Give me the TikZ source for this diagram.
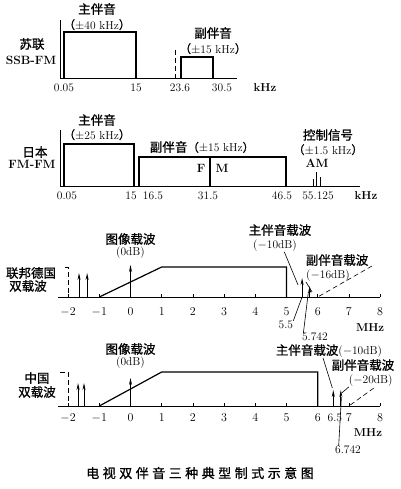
\documentclass[tikz,border=0pt]{standalone}
\usepackage{fontspec}
\newfontfamily\cjk{Noto Sans CJK SC}[FakeBold=1]
\usetikzlibrary{arrows.meta,positioning}
\newcommand\zlp{{\cjk（}}
\newcommand\zrp{{\cjk）}}

\begin{document}
\begin{tikzpicture}[x=1pt, y=-1pt,
    cn/.style={font=\cjk\fontsize{12.5}{14}\selectfont, inner sep=0pt},
    num/.style={font=\fontsize{11.5}{13}\selectfont, inner sep=0pt},
    tag/.style={font=\bfseries\fontsize{12}{14}\selectfont, inner sep=0pt},
    unit/.style={font=\bfseries\fontsize{11.5}{13}\selectfont, inner sep=0pt},
    band/.style={line width=1.2pt},
    axis/.style={line width=0.7pt},
    carrier/.style={-{Stealth[length=7pt, width=3pt]}, line width=0.9pt},
    lead/.style={line width=0.6pt},
    dlead/.style={line width=0.6pt, dash pattern=on 5pt off 3pt}
]
\useasboundingbox (0,0) rectangle (400,489);

% Soviet SSB-FM
\draw[axis] (60,20) -- (60,78) -- (237,78);
\draw[band] (64,78) |- (136,32) -- (136,78);
\draw[axis, dash pattern=on 5pt off 3pt] (175,50) -- (175,78);
\draw[band] (181,78) |- (213,57) -- (213,78);
\node[cn] (su1) at (97,9) {主伴音};
\node[num, below=4pt of su1] {\zlp$\pm$40 kHz\zrp};
\node[cn] (su2) at (213,33) {副伴音};
\node[num, below=4pt of su2] {\zlp$\pm$15 kHz\zrp};
\node[cn] (su) at (32,44) {苏联};
\node[tag] at (31,60) {SSB-FM};
\node[num] at (64,88) {0.05};
\node[num] at (136,88) {15};
\node[num] at (180,88) {23.6};
\node[num] at (222,88) {30.5};
\node[unit] at (265,88) {kHz};

% Japan FM-FM
\draw[axis] (60,130) -- (60,186) -- (360,186);
\draw[band] (64,186) |- (134,144) -- (134,186);
\draw[band] (139,186) |- (286,157) -- (286,186);
\draw[band] (210,157) -- (210,186);
\draw[axis] (313,186) -- (313,179);
\draw[axis] (316,186) -- (316,172);
\draw[axis] (320,186) -- (320,177);
\node[cn] (jp1) at (97,120) {主伴音};
\node[num, below=3pt of jp1] {\zlp$\pm$25 kHz\zrp};
\node[cn] at (202,147) {副伴音\textrm{\fontsize{11.5}{13}\selectfont\zlp$\pm$15 kHz\zrp}};
\node[tag] at (201,168) {F};
\node[tag] at (222,168) {M};
\node[cn] (ctl) at (328,135) {控制信号};
\node[num, below=3pt of ctl] {\zlp$\pm$1.5 kHz\zrp};
\node[tag] at (317,163) {AM};
\node[cn] at (35,152) {日本};
\node[tag] at (32,164) {FM-FM};
\node[num] at (67,196) {0.05};
\node[num] at (131,196) {15};
\node[num] at (153,196) {16.5};
\node[num] at (208,196) {31.5};
\node[num] at (282,196) {46.5};
\node[num] at (318,196) {55.125};
\node[unit] at (366,196) {kHz};

% West Germany dual carrier
\node[cn] at (31,273) {联邦德国};
\node[cn] at (28,286) {双载波};
\begin{scope}[shift={(130.5,297)}, x=31.2pt]
  \draw[axis] (-2.32,0) -- (8,0);
  \foreach \f in {-2,...,8} {
    \draw[axis] (\f,0) -- (\f,-3);
    \node[num] at (\f,15) {$\f$};
  }
  \draw[band] (-1,0) -- (1,-30) -- (5,-30) -- (5,0);
  \draw[axis, dash pattern=on 5pt off 3pt] (-2.1,-30) -- (-2,-30) -- (-2,0);
  \draw[carrier] (0,0) -- (0,-32);
  \draw[carrier] (-1.65,0) -- (-1.65,-24);
  \draw[carrier] (-1.39,0) -- (-1.39,-24);
  \draw[carrier] (5.5,0) -- (5.5,-19);
  \draw[carrier] (5.742,0) -- (5.742,-11);
  \node[cn] (de0) at (0,-58) {图像载波};
  \node[num] at (0,-44) {(0dB)};
  \node[cn] (de1) at (4.79,-67) {主伴音载波};
  \node[num] (de1db) at (4.63,-51) {($-$10dB)};
  \node[cn] (de2) at (6.62,-37) {副伴音载波};
  \node[num] (de2db) at (6.33,-21) {($-$16dB)};
  \node[num] (de55) at (4.98,28) {5.5};
  \node[num] (de5742) at (5.91,40) {5.742};
  \node[unit] at (7.68,31) {MHz};
  \coordinate (dek1) at (5.37,-12);
  \coordinate (dek2) at (5.5,0);
  \coordinate (dek3) at (5.7,-5);
  \coordinate (dek4) at (5.82,-5);
  \coordinate (dek5) at (7.74,-31);
  \coordinate (dek6) at (6,0);
  \draw[lead] (de1db.south) ++(0.3,0) -- (dek1);
  \draw[lead] (de55.north east) -- (dek2);
  \draw[lead] (de5742.north west) ++(0.05,0) -- (dek3);
  \draw[lead] (de2db.south west) -- (dek4);
  \draw[dlead] (dek5) -- (dek6);
\end{scope}

% China dual carrier
\node[cn] at (37,378) {中国};
\node[cn] at (37,392) {双载波};
\begin{scope}[shift={(130.5,406)}, x=31.2pt]
  \draw[axis] (-2.32,0) -- (8,0);
  \foreach \f in {-2,...,8} {
    \draw[axis] (\f,0) -- (\f,-3);
    \node[num] at (\f,12) {$\f$};
  }
  \draw[band] (-1,0) -- (1,-34) -- (6,-34) -- (6,0);
  \draw[axis, dash pattern=on 5pt off 3pt] (-2.25,-34) -- (-2,-34) -- (-2,0);
  \draw[carrier] (0,0) -- (0,-28);
  \draw[carrier] (-1.68,0) -- (-1.68,-23);
  \draw[carrier] (-1.49,0) -- (-1.49,-23);
  \draw[carrier] (6.5,0) -- (6.5,-16);
  \draw[carrier] (6.742,0) -- (6.742,-16);
  \node[cn] (cn0) at (0,-57) {图像载波};
  \node[num] at (0,-43) {(0dB)};
  \node[cn] (cn1) at (6.36,-55) {主伴音载波\textrm{\fontsize{11.5}{13}\selectfont($-$10dB)}};
  \node[cn] (cn2) at (7.45,-41) {副伴音载波};
  \node[num] (cn2db) at (7.7,-25) {($-$20dB)};
  \node[num] at (6.55,12) {6.5};
  \node[num] (cn6742) at (6.97,44) {6.742};
  \node[unit] at (7.61,27) {MHz};
  \coordinate (cnk1) at (6.17,-48);
  \coordinate (cnk2) at (6.47,-18);
  \coordinate (cnk3) at (6.77,-13);
  \coordinate (cnk4) at (6.76,-9);
  \coordinate (cnk5) at (7.8,-18);
  \coordinate (cnk6) at (7,0);
  \draw[lead] (cnk1) -- (cnk2);
  \draw[lead] (cn2db.south west) -- (cnk3);
  \draw[lead] (cn6742.north west) ++(0.12,0) -- (cnk4);
  \draw[dlead] (cnk5) -- (cnk6);
\end{scope}

\node[cn, font=\cjk\fontsize{13}{15}\selectfont] (cap) at (200,473)
  {电\hspace{3.5pt}视\hspace{3.5pt}双\hspace{3.5pt}伴\hspace{3.5pt}音\hspace{3.5pt}三\hspace{3.5pt}种\hspace{3.5pt}典\hspace{3.5pt}型\hspace{3.5pt}制\hspace{3.5pt}式\hspace{3.5pt}示\hspace{3.5pt}意\hspace{3.5pt}图};
\end{tikzpicture}
\end{document}
